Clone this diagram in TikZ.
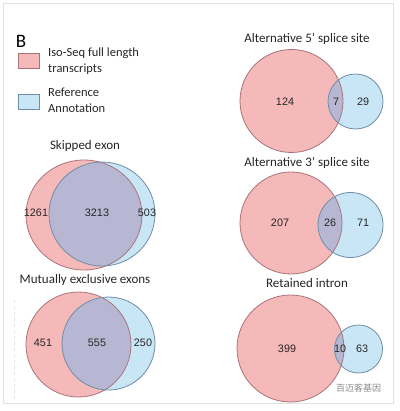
\documentclass[tikz,border=0pt]{standalone}
\usepackage{fontspec}
\setmainfont{Carlito}
\newfontfamily\numfont{Liberation Sans}
\newfontfamily\cjkfont{Noto Sans CJK SC}
\definecolor{pinkfill}{HTML}{F5B9B9}
\definecolor{pinkline}{HTML}{A8747A}
\definecolor{bluefill}{HTML}{C9E6F7}
\definecolor{blueline}{HTML}{6F8DA6}
\definecolor{ovfill}{HTML}{B8B7D3}
\definecolor{framec}{HTML}{E2E2E2}
\definecolor{txtc}{HTML}{262626}
\newcommand\vennpair[8]{%
  \fill[pinkfill] (#1,#2) ellipse[x radius=#3, y radius=#4];
  \fill[bluefill] (#5,#6) ellipse[x radius=#7, y radius=#8];
  \begin{scope}
    \clip (#1,#2) ellipse[x radius=#3, y radius=#4];
    \fill[ovfill] (#5,#6) ellipse[x radius=#7, y radius=#8];
  \end{scope}
  \draw[pinkline, line width=0.8pt] (#1,#2) ellipse[x radius=#3, y radius=#4];
  \draw[blueline, line width=0.8pt] (#5,#6) ellipse[x radius=#7, y radius=#8];
}
\begin{document}
\begin{tikzpicture}[x=1pt,y=-1pt,
  title/.style={font=\fontsize{13}{15}\selectfont, text=txtc, inner sep=0pt},
  legtext/.style={font=\fontsize{12.5}{16}\selectfont, text=txtc, align=left, anchor=west, inner sep=0pt},
  num/.style={font=\numfont\fontsize{10.8}{12}\selectfont, text=txtc, inner sep=0pt},
  legbox/.style={line width=0.7pt, minimum width=21pt, minimum height=15pt, inner sep=0pt}]
\useasboundingbox (0,0) rectangle (399,411);
\fill[white] (0,0) rectangle (399,411);
\draw[framec, line width=0.8pt] (3,3) rectangle (393,403);
\draw[framec, line width=0.6pt, dashed] (14,300) -- (14,400);

% legend
\node[font=\fontsize{19}{21}\selectfont, text=black, inner sep=0pt] (B) at (21,41) {B};
\node[legbox, draw=pinkline, fill=pinkfill] (lp) at (29,61) {};
\node[legtext] (lpt) at (48,61) {Iso-Seq full length\\transcripts};
\node[legbox, draw=blueline, fill=bluefill] (lb) at (29,101.5) {};
\node[legtext] (lbt) at (48,100) {Reference\\Annotation};

% Skipped exon
\node[title] (t1) at (85,146) {Skipped exon};
\vennpair{84}{215}{58}{55}{102}{214}{53}{52}
\node[num] (n11) at (36,213) {1261};
\node[num] (n12) at (97,213) {3213};
\node[num] (n13) at (147,213) {503};

% Mutually exclusive exons
\node[title] (t2) at (85,280) {Mutually exclusive exons};
\vennpair{78.5}{344.5}{52.5}{52.5}{108.5}{343.5}{46.5}{46.5}
\node[num] (n21) at (43,343) {451};
\node[num] (n22) at (97,343) {555};
\node[num] (n23) at (143,343) {250};

% Alternative 5' splice site
\node[title] (t3) at (307,39) {Alternative 5’ splice site};
\vennpair{291.5}{101}{51.5}{51.5}{355.5}{101.5}{27.5}{27.5}
\node[num] (n31) at (285,102) {124};
\node[num] (n32) at (336,102) {7};
\node[num] (n33) at (363,102) {29};

% Alternative 3' splice site
\node[title] (t4) at (307,163) {Alternative 3’ splice site};
\vennpair{291}{223}{51}{51}{350.5}{225}{32.5}{32.5}
\node[num] (n41) at (280,223) {207};
\node[num] (n42) at (330,223) {26};
\node[num] (n43) at (363,223) {71};

% Retained intron
\node[title] (t5) at (307,283) {Retained intron};
\vennpair{290.5}{348.5}{53.5}{53.5}{358.5}{349}{24}{24}
\node[num] (n51) at (287,349) {399};
\node[num] (n52) at (340,349) {10};
\node[num] (n53) at (362,349) {63};

% watermark
\node[font=\cjkfont\fontsize{9}{10}\selectfont, text=black!45, anchor=west, inner sep=0pt] (wm) at (336,388) {百迈客基因};
\end{tikzpicture}
\end{document}
